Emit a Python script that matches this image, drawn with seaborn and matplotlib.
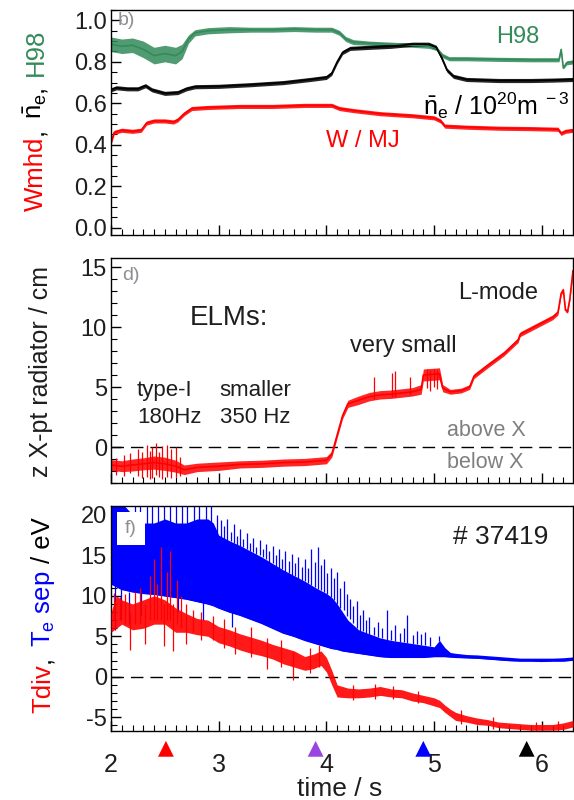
import matplotlib
matplotlib.use("Agg")
import numpy as np
import pandas as pd
import matplotlib.pyplot as plt
import seaborn as sns
from matplotlib.ticker import MultipleLocator

# Set style
sns.set_theme(style="ticks")
plt.rcParams['font.family'] = ['Liberation Sans', 'DejaVu Sans']
plt.rcParams['mathtext.fontset'] = 'custom'
plt.rcParams['mathtext.rm'] = 'Liberation Sans'
plt.rcParams['mathtext.it'] = 'Liberation Sans:italic'
plt.rcParams['axes.unicode_minus'] = False

RED = '#ff0000'
BLUE = '#0000ff'
GREEN = '#338a5a'
GREY = '#8e8e96'

# ---- panel b) : H98, line density, stored energy (read from picture) ----
h98_t = [2.00, 2.10, 2.20, 2.30, 2.40, 2.50, 2.60, 2.66, 2.72, 2.78, 2.90, 3.10, 3.30, 3.50, 3.70,
         3.90, 4.05, 4.12, 4.18, 4.25, 4.40, 4.60, 4.80, 4.95, 5.02, 5.08, 5.14, 5.30, 5.60, 5.90,
         6.10, 6.16, 6.18, 6.20, 6.23, 6.29]
h98_mid = [0.885, 0.875, 0.88, 0.86, 0.83, 0.84, 0.83, 0.85, 0.91, 0.94, 0.95, 0.955, 0.955, 0.955, 0.958,
           0.955, 0.955, 0.94, 0.91, 0.895, 0.89, 0.885, 0.88, 0.875, 0.865, 0.83, 0.815, 0.815, 0.812, 0.81,
           0.81, 0.81, 0.86, 0.77, 0.795, 0.80]
h98_spread = [0.035, 0.035, 0.035, 0.04, 0.04, 0.04, 0.04, 0.035, 0.02, 0.015, 0.015, 0.015, 0.012, 0.012, 0.012,
              0.012, 0.012, 0.012, 0.012, 0.012, 0.01, 0.01, 0.01, 0.01, 0.01, 0.01, 0.01, 0.01, 0.01, 0.01,
              0.01, 0.01, 0.005, 0.005, 0.01, 0.01]

ne_t = [2.00, 2.05, 2.15, 2.25, 2.32, 2.38, 2.50, 2.62, 2.70, 2.78, 3.00, 3.30, 3.60, 3.85, 4.00, 4.05,
        4.10, 4.15, 4.22, 4.40, 4.60, 4.80, 4.95, 5.02, 5.07, 5.12, 5.18, 5.30, 5.60, 5.90, 6.10, 6.29]
ne_mid = [0.665, 0.675, 0.67, 0.67, 0.685, 0.665, 0.648, 0.652, 0.67, 0.68, 0.682, 0.69, 0.70, 0.715, 0.725, 0.745,
          0.80, 0.845, 0.865, 0.87, 0.875, 0.885, 0.885, 0.87, 0.82, 0.76, 0.73, 0.715, 0.71, 0.71, 0.712, 0.715]

w_t = [2.00, 2.03, 2.10, 2.20, 2.28, 2.33, 2.40, 2.50, 2.58, 2.62, 2.68, 2.75, 2.90, 3.20, 3.50, 3.80,
       4.05, 4.12, 4.25, 4.50, 4.80, 5.00, 5.06, 5.10, 5.30, 5.60, 5.90, 6.15, 6.18, 6.22, 6.29]
w_mid = [0.41, 0.46, 0.47, 0.465, 0.47, 0.505, 0.515, 0.515, 0.51, 0.52, 0.55, 0.575, 0.58, 0.585, 0.585, 0.59,
         0.59, 0.575, 0.565, 0.55, 0.54, 0.53, 0.515, 0.49, 0.485, 0.48, 0.478, 0.475, 0.455, 0.465, 0.47]

# ---- panel d) : X-point radiator height ----
z_t = [2.00, 2.10, 2.20, 2.30, 2.40, 2.50, 2.60, 2.68, 2.80, 3.00, 3.20, 3.40, 3.60, 3.80, 4.00, 4.05,
       4.10, 4.15, 4.20, 4.30, 4.40, 4.50, 4.60, 4.70, 4.80, 4.88, 4.90, 5.05, 5.08, 5.15, 5.25, 5.33,
       5.37, 5.50, 5.65, 5.78, 5.80, 5.95, 6.10, 6.15, 6.18, 6.20, 6.22, 6.24, 6.26, 6.29]
z_mid = [-1.5, -1.6, -1.5, -1.4, -1.3, -1.4, -1.6, -1.9, -1.7, -1.6, -1.45, -1.4, -1.3, -1.25, -1.1, -0.6,
         1.0, 2.6, 3.6, 3.9, 4.2, 4.35, 4.4, 4.5, 4.6, 4.8, 6.0, 6.1, 4.9, 4.6, 4.7, 5.0,
         5.9, 6.8, 7.8, 8.9, 9.4, 10.1, 10.8, 11.2, 12.8, 13.1, 11.4, 11.3, 12.3, 14.7]
z_spread = [0.45, 0.45, 0.5, 0.5, 0.55, 0.55, 0.5, 0.4, 0.35, 0.35, 0.3, 0.3, 0.3, 0.3, 0.3, 0.25,
            0.25, 0.25, 0.3, 0.35, 0.35, 0.35, 0.35, 0.35, 0.35, 0.4, 0.5, 0.5, 0.3, 0.2, 0.2, 0.2,
            0.2, 0.2, 0.2, 0.2, 0.2, 0.2, 0.2, 0.2, 0.15, 0.15, 0.15, 0.15, 0.15, 0.15]
z_spike_t = [2.05, 2.12, 2.18, 2.25, 2.29, 2.33, 2.36, 2.38, 2.42, 2.45, 2.47, 2.52, 2.56, 2.60, 2.64,
             4.44, 4.61, 4.64, 4.78, 4.93, 4.96, 5.00, 5.03]
z_spike_lo = [-2.3, -2.4, -2.2, -2.4, -2.6, -2.5, -2.7, -2.6, -2.3, -2.5, -2.7, -2.5, -2.6, -2.5, -2.4,
              4.0, 4.2, 4.2, 4.3, 4.9, 4.7, 5.0, 4.8]
z_spike_hi = [-0.9, -0.7, -0.5, -0.2, -0.4, 0.2, -0.3, 0.0, 0.3, -0.4, 0.1, 0.2, -0.2, 0.0, -0.8,
              5.8, 6.2, 6.3, 5.8, 6.5, 6.4, 6.5, 6.4]

# ---- panel f) : separatrix temperature (blue) and Tdiv (red) ----
te_t = [2.00, 2.10, 2.20, 2.30, 2.40, 2.50, 2.60, 2.70, 2.80, 2.90, 2.95, 3.00, 3.10, 3.20, 3.30, 3.40,
        3.50, 3.60, 3.70, 3.80, 3.90, 4.00, 4.05, 4.10, 4.15, 4.20, 4.30, 4.40, 4.50, 4.60, 4.70, 4.80,
        4.90, 5.00, 5.05, 5.10, 5.15, 5.20, 5.30, 5.40, 5.50, 5.60, 5.70, 5.80, 5.90, 6.00, 6.10, 6.20, 6.29]
te_lo = [11.5, 10.8, 10.5, 10.3, 10.2, 10.0, 9.8, 9.6, 9.3, 9.0, 8.8, 8.5, 8.0, 7.6, 7.1, 6.6,
         6.0, 5.4, 5.0, 4.5, 4.1, 3.7, 3.5, 3.4, 3.2, 3.1, 2.9, 2.7, 2.5, 2.4, 2.4, 2.4,
         2.4, 2.5, 2.5, 2.5, 2.45, 2.4, 2.35, 2.3, 2.2, 2.1, 2.0, 1.95, 1.95, 1.9, 1.95, 1.95, 2.05]
te_hi = [21.5, 21.5, 20.0, 19.0, 19.0, 19.5, 19.0, 19.0, 19.5, 19.5, 19.0, 17.5, 16.8, 16.2, 15.5, 14.8,
         14.0, 13.2, 12.5, 11.8, 11.0, 10.3, 9.8, 9.0, 8.0, 7.0, 5.8, 5.3, 4.8, 4.5, 4.3, 4.1,
         3.9, 3.7, 4.5, 3.6, 3.0, 2.9, 2.75, 2.7, 2.6, 2.5, 2.4, 2.3, 2.3, 2.3, 2.3, 2.35, 2.45]
te_spike_t = [2.04, 2.09, 2.17, 2.22, 2.27, 2.28, 2.33, 2.38, 2.44, 2.49, 2.55, 2.60, 2.62, 2.66, 2.71,
              2.77, 2.82, 2.85, 2.88, 2.93, 2.98, 3.02, 3.05, 3.08, 3.11, 3.12, 3.14, 3.17, 3.20, 3.23,
              3.26, 3.29, 3.32, 3.35, 3.38, 3.41, 3.44, 3.47, 3.50, 3.53, 3.56, 3.59, 3.62, 3.65, 3.68,
              3.71, 3.74, 3.77, 3.80, 3.83, 3.86, 3.89, 3.92, 3.95, 3.98, 4.01, 4.04, 4.07, 4.10, 4.13,
              4.16, 4.19, 4.22, 4.25, 4.28, 4.31, 4.34, 4.37, 4.40, 4.44, 4.48, 4.52, 4.56, 4.60, 4.64,
              4.68, 4.72, 4.75, 4.80, 4.84, 4.88, 4.92, 4.96, 5.05]
te_spike_lo = [5.8, 7.0, 6.5, 18.0, 18.0, 7.5, 18.0, 18.0, 18.0, 18.0, 18.0, 18.0, 8.0, 18.0, 18.0,
               18.0, 18.0, 7.0, 18.0, 18.0, 17.5, 17.0, 17.0, 16.8, 16.8, 6.2, 16.5, 16.3, 16.2, 16.0,
               15.8, 15.6, 15.4, 15.2, 15.0, 14.8, 14.5, 14.2, 14.0, 13.7, 13.5, 13.3, 13.0, 12.8, 12.6,
               12.4, 12.1, 11.9, 11.8, 11.6, 11.3, 11.1, 10.9, 10.7, 10.5, 10.2, 9.9, 9.5, 9.0, 8.5,
               8.2, 7.5, 7.2, 6.7, 6.0, 5.7, 5.6, 5.4, 5.3, 5.1, 4.9, 4.8, 4.6, 4.5, 4.4,
               4.3, 4.3, 4.2, 4.1, 4.0, 3.9, 3.9, 3.8, 4.4]
te_spike_hi = [11.5, 11.0, 10.5, 21.5, 21.5, 10.3, 21.5, 21.5, 21.5, 21.5, 21.5, 21.5, 10.0, 21.5, 21.5,
               21.5, 21.5, 9.5, 21.5, 21.5, 20.0, 19.4, 18.6, 19.5, 17.9, 8.2, 18.9, 17.4, 18.2, 17.0,
               17.8, 16.5, 17.2, 16.0, 16.9, 15.8, 16.4, 15.5, 16.2, 15.0, 15.8, 14.6, 15.6, 14.3, 15.2,
               14.0, 14.8, 13.6, 14.5, 13.5, 15.8, 14.2, 16.0, 13.8, 14.6, 12.8, 13.5, 12.2, 13.0, 11.0,
               11.8, 10.2, 9.6, 8.8, 9.4, 7.6, 8.2, 7.0, 7.4, 6.2, 6.8, 6.0, 8.3, 5.8, 6.4,
               5.4, 6.0, 7.6, 5.2, 5.6, 5.3, 5.5, 4.9, 5.0]

tdiv_t = [2.00, 2.05, 2.10, 2.20, 2.30, 2.40, 2.50, 2.60, 2.70, 2.80, 2.90, 3.00, 3.10, 3.20, 3.30, 3.40,
          3.50, 3.60, 3.70, 3.80, 3.88, 3.95, 4.00, 4.05, 4.10, 4.20, 4.30, 4.40, 4.50, 4.60, 4.70, 4.80,
          4.90, 5.00, 5.05, 5.10, 5.15, 5.20, 5.30, 5.40, 5.50, 5.60, 5.70, 5.80, 5.90, 6.00, 6.10, 6.20, 6.29]
tdiv_lo = [5.5, 6.0, 6.5, 5.8, 6.0, 6.5, 6.5, 5.5, 5.5, 5.2, 5.0, 4.2, 3.8, 3.3, 2.9, 2.6,
           2.2, 1.6, 1.2, 0.8, 1.0, 1.4, 0.6, -1.0, -2.5, -2.6, -2.6, -2.5, -2.3, -2.5, -2.6, -3.0,
           -3.2, -3.6, -3.8, -4.4, -4.9, -5.4, -5.6, -5.9, -6.0, -6.3, -6.4, -6.5, -6.6, -6.6, -6.6, -6.5, -6.2]
tdiv_hi = [8.0, 10.0, 9.5, 9.0, 9.5, 10.0, 9.5, 8.5, 7.8, 7.2, 7.0, 6.2, 5.8, 5.3, 4.9, 4.5,
           4.0, 3.6, 3.2, 2.5, 2.8, 3.2, 2.4, 0.8, -1.0, -1.4, -1.5, -1.4, -1.2, -1.5, -1.6, -2.0,
           -2.3, -2.6, -2.9, -3.5, -4.0, -4.4, -4.8, -5.1, -5.3, -5.6, -5.7, -5.8, -5.9, -5.9, -5.9, -5.7, -5.4]
tdiv_spike_t = [2.03, 2.08, 2.13, 2.18, 2.22, 2.27, 2.32, 2.36, 2.40, 2.43, 2.46, 2.49, 2.52, 2.55, 2.58,
                2.61, 2.65, 2.70, 2.76, 2.84, 2.95, 3.05, 3.15, 3.30, 3.45, 3.58, 3.69, 3.85, 3.93,
                4.25, 4.45, 4.62, 4.85, 5.25, 5.55, 5.95, 6.15]
tdiv_spike_lo = [7.0, 7.0, 6.5, 3.3, 6.5, 6.5, 4.0, 7.0, 7.0, 7.0, 7.0, 3.8, 7.0, 7.0, 3.2,
                 6.5, 6.0, 4.0, 5.5, 4.5, 4.5, 3.5, 2.8, 2.5, 1.0, 1.2, -0.4, 0.5, 1.2,
                 -2.9, -2.8, -2.8, -3.3, -5.8, -6.4, -6.8, -6.8]
tdiv_spike_hi = [10.4, 9.8, 10.2, 8.0, 10.5, 11.0, 9.0, 12.5, 14.5, 11.5, 16.0, 9.0, 13.0, 15.5, 9.0,
                 12.0, 10.0, 9.0, 8.3, 8.0, 7.5, 7.2, 6.2, 6.2, 4.8, 4.5, 3.0, 3.6, 3.9,
                 -1.0, -0.9, -1.1, -1.7, -4.1, -5.0, -5.6, -5.5]

# time markers below the bottom panel
marker_t = [2.51, 3.90, 4.90, 5.86]
marker_colors = [RED, '#9b45e0', BLUE, 'black']


def style_axis(ax, ylim, major, minor):
    ax.set_xlim(2.0, 6.29)
    ax.set_ylim(*ylim)
    ax.xaxis.set_major_locator(MultipleLocator(1))
    ax.xaxis.set_minor_locator(MultipleLocator(0.1))
    ax.yaxis.set_major_locator(MultipleLocator(major))
    ax.yaxis.set_minor_locator(MultipleLocator(minor))
    ax.tick_params(which='both', direction='in', top=False, right=False,
                   color='black', labelcolor='#1e1e1e')
    ax.tick_params(which='major', length=7, width=1)
    ax.tick_params(which='minor', length=4, width=0.8)
    ax.tick_params(axis='y', labelsize=17, pad=3)
    ax.tick_params(axis='x', labelsize=18, pad=15.5)
    for s in ax.spines.values():
        s.set_linewidth(1)
        s.set_color('black')
    ax.set_xlabel('')
    ax.set_ylabel('')
    ax.grid(False)


def band_trace(ax, t, mid, spread, color, lw=1.2):
    mid = np.array(mid)
    spread = np.array(spread)
    ax.fill_between(t, mid - spread, mid + spread, color=color, lw=0, alpha=0.85)
    sns.lineplot(x=t, y=mid, ax=ax, color=color, lw=lw, estimator=None, errorbar=None)


def stacked_label(fig, x, yc, parts, colors, gaps, size):
    r = fig.canvas.get_renderer()
    H = fig.bbox.height
    objs = [fig.text(x, 0, p, color=c, fontsize=size, rotation=90,
                     rotation_mode='anchor', ha='left', va='baseline')
            for p, c in zip(parts, colors)]
    lens = [o.get_window_extent(r).height / H for o in objs]
    gap_f = [g * size / 72 * fig.dpi / H for g in gaps] + [0]
    y = yc - (sum(lens) + sum(gap_f)) / 2
    for o, L, g in zip(objs, lens, gap_f):
        o.set_y(y)
        y += L + g


fig = plt.figure(figsize=(5.74, 8), dpi=100)
ax1 = fig.add_axes([0.19338, 0.70625, 0.80488, 0.28125])
ax2 = fig.add_axes([0.19338, 0.39625, 0.80488, 0.28125])
ax3 = fig.add_axes([0.19338, 0.08625, 0.80488, 0.28125])

# 1. panel b)
band_trace(ax1, h98_t, h98_mid, h98_spread, GREEN)
band_trace(ax1, ne_t, ne_mid, [0.01] * len(ne_t), 'black')
band_trace(ax1, w_t, w_mid, [0.01] * len(w_t), RED)
style_axis(ax1, (-0.035, 1.05), 0.2, 0.05)
ax1.tick_params(labelbottom=False)
ax1.text(0.014, 0.99, 'b)', transform=ax1.transAxes, color=GREY, fontsize=14, va='top')
ax1.text(5.58, 0.889, 'H98', color=GREEN, fontsize=17)
ax1.text(4.90, 0.543, r'$\bar{\mathregular{n}}_{\mathregular{e}}$ / 10$^{\mathregular{20}}$m$^{\mathregular{\ -3}}$',
         color='black', fontsize=18)
ax1.text(4.00, 0.39, 'W / MJ', color=RED, fontsize=17)

# 2. panel d)
ax2.axhline(0, color='black', lw=1, ls=(0, (9, 5)), zorder=1)
band_trace(ax2, z_t, z_mid, z_spread, RED)
ax2.vlines(z_spike_t, z_spike_lo, z_spike_hi, color=RED, lw=0.9)
style_axis(ax2, (-3, 15.75), 5, 1)
ax2.tick_params(labelbottom=False)
ax2.text(0.024, 0.96, 'd)', transform=ax2.transAxes, color=GREY, fontsize=14, va='top')
ax2.text(2.73, 10.17, 'ELMs:', fontsize=20, color='#1e1e1e')
ax2.text(2.24, 4.25, 'type-I', fontsize=16, color='#1e1e1e')
ax2.text(2.24, 2.0, '180Hz', fontsize=16, color='#1e1e1e')
ax2.text(3.01, 4.25, 'smaller', fontsize=16, color='#1e1e1e')
ax2.text(3.01, 2.0, '350 Hz', fontsize=16, color='#1e1e1e')
ax2.text(4.22, 7.9, 'very small', fontsize=17, color='#1e1e1e')
ax2.text(5.22, 12.3, 'L-mode', fontsize=17, color='#1e1e1e')
ax2.text(5.12, 0.9, 'above X', fontsize=15.5, color='#7f7f7f')
ax2.text(5.12, -1.75, 'below X', fontsize=15.5, color='#7f7f7f')

# 3. panel f)
ax3.axhline(0, color='black', lw=1, ls=(0, (9, 5)), zorder=1)
ax3.fill_between(te_t, te_lo, te_hi, color=BLUE, lw=0, zorder=2)
ax3.vlines(te_spike_t, te_spike_lo, te_spike_hi, color=BLUE, lw=0.9, zorder=2)
sns.lineplot(x=te_t, y=te_lo, ax=ax3, color=BLUE, lw=1, estimator=None, errorbar=None, zorder=2)
ax3.fill_between(tdiv_t, tdiv_lo, tdiv_hi, color=RED, lw=0, alpha=0.9, zorder=3)
ax3.vlines(tdiv_spike_t, tdiv_spike_lo, tdiv_spike_hi, color=RED, lw=0.9, zorder=3)
style_axis(ax3, (-6.7, 21.1), 5, 1)
ax3.text(0.03, 0.938, 'f)', transform=ax3.transAxes, color=GREY, fontsize=14, va='top', zorder=5,
         bbox=dict(boxstyle='square,pad=0.4', fc='white', ec='none'))
ax3.text(5.18, 16.4, '# 37419', fontsize=19, color='#1e1e1e')
marker_df = pd.DataFrame({'t': marker_t, 'y': [-8.9] * len(marker_t), 'c': marker_colors})
sns.scatterplot(data=marker_df, x='t', y='y', hue='c', palette=dict(zip(marker_colors, marker_colors)),
                marker='^', s=130, linewidth=0, legend=False, clip_on=False, ax=ax3, zorder=5)
ax3.set_xlabel('')
ax3.set_ylabel('')
fig.text(0.5915, 0.005, 'time / s', ha='center', va='baseline', fontsize=19, color='#1e1e1e')

# y labels built from coloured pieces
stacked_label(fig, 0.0749, 0.85, ['Wmhd', ',', r'$\bar{\mathregular{n}}_{\mathregular{e}}$', ',', 'H98'],
              [RED, 'black', 'black', 'black', GREEN], [0.05, 0.35, 0.05, 0.35], 18.5)
stacked_label(fig, 0.0836, 0.535, ['z X-pt radiator / cm'], ['#1e1e1e'], [], 18)
stacked_label(fig, 0.0871, 0.231, ['Tdiv', ',', r'T$_{\mathregular{e}}$ sep', '/ eV'],
              [RED, 'black', BLUE, 'black'], [0.05, 0.35, 0.28], 18.5)

fig.savefig('out.png', dpi=100)
